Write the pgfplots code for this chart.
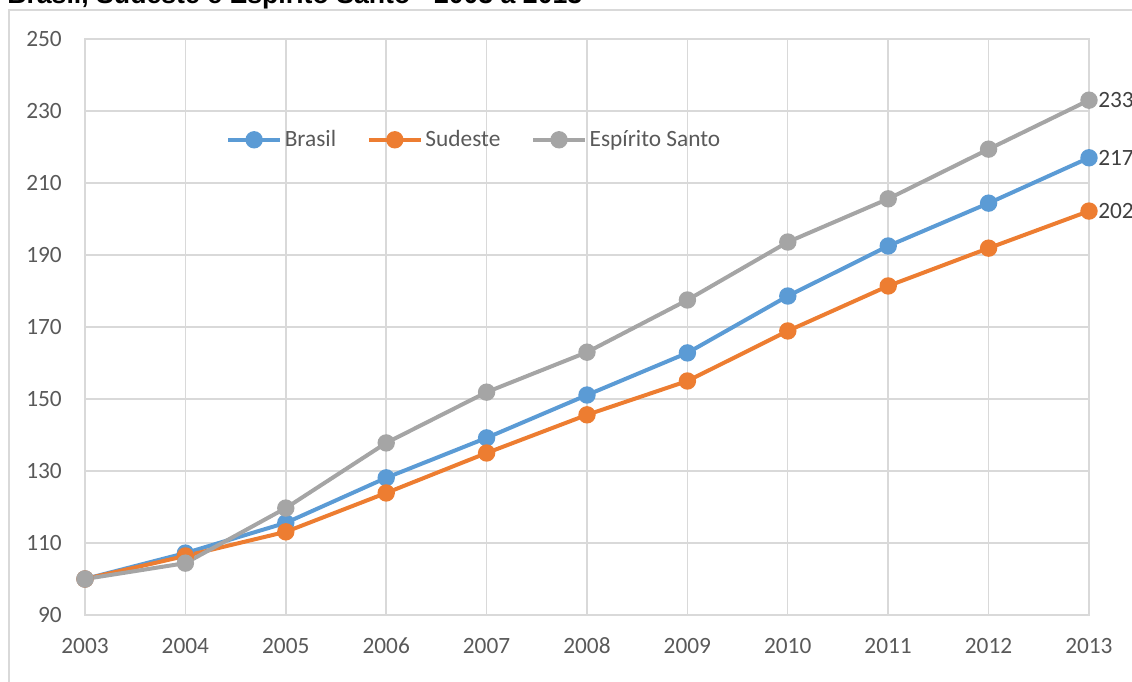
\documentclass[border=0pt]{standalone}
\usepackage{fontspec}
\setmainfont{Carlito}
\newfontfamily\titlefont{Liberation Sans}
\usepackage{pgfplots}
\pgfplotsset{compat=1.18}
\definecolor{cBR}{HTML}{5B9BD5}
\definecolor{cSE}{HTML}{ED7D31}
\definecolor{cES}{HTML}{A5A5A5}
\definecolor{cGrid}{HTML}{D9D9D9}
\definecolor{cTick}{HTML}{595959}
\definecolor{cLab}{HTML}{404040}
\pgfplotstableread{
year BR SE ES
2003 100 100 100
2004 107.2 106.4 104.4
2005 115.6 113.1 119.7
2006 128.1 123.9 137.8
2007 139.2 135.0 151.9
2008 151.1 145.6 163.0
2009 162.8 155.0 177.5
2010 178.6 168.9 193.6
2011 192.5 181.4 205.6
2012 204.4 191.9 219.4
2013 217.0 202.2 233.0
}\datatable
\begin{document}
\begin{tikzpicture}[x=0.75pt,y=0.75pt]
\useasboundingbox (0,0) rectangle (1132,682);
\draw[cGrid, line width=1.1pt] (9,-5) -- (9,672) -- (1140,672);
\node[anchor=base west, inner sep=0pt, font=\titlefont\bfseries\fontsize{20}{24}\selectfont] at (7,678) {Brasil, Sudeste e Espírito Santo - 2003 a 2013};
\begin{axis}[
  at={(63.75pt,50.25pt)}, anchor=south west,
  scale only axis, width=753pt, height=432pt,
  xmin=2003, xmax=2013, ymin=90, ymax=250,
  xtick={2003,...,2013}, ytick={90,110,...,250},
  grid=major, major grid style={cGrid, line width=1.1pt},
  axis line style={cGrid, line width=1.1pt},
  major tick length=0pt,
  clip=false,
  /pgf/number format/assume math mode=true,
  x tick label style={/pgf/number format/1000 sep={}, font=\fontsize{17.5}{21}\selectfont, text=cTick, anchor=center, inner sep=0pt, yshift=-23.25pt},
  y tick label style={font=\fontsize{17.5}{21}\selectfont, text=cTick, anchor=east, inner sep=0pt, xshift=-17.25pt},
  legend columns=3,
  legend style={draw=none, fill=none, at={(0.388,0.825)}, anchor=center, font=\fontsize{17.5}{21}\selectfont, text=cTick,
    /tikz/every even column/.append style={column sep=21pt}},
  legend cell align=left,
  legend image code/.code={\draw[mark repeat=2,mark phase=2,#1] plot coordinates {(0pt,0pt) (19.5pt,0pt) (39pt,0pt)};},
  every axis plot/.append style={line width=3pt, mark=*, mark size=5pt},
]
\addplot[cBR, mark options={fill=cBR, draw=cBR}] table[x=year,y=BR] {\datatable};
\addlegendentry{Brasil}
\addplot[cSE, mark options={fill=cSE, draw=cSE}] table[x=year,y=SE] {\datatable};
\addlegendentry{Sudeste}
\addplot[cES, mark options={fill=cES, draw=cES}] table[x=year,y=ES] {\datatable};
\addlegendentry{Espírito Santo}
\node[anchor=west, inner sep=0pt, xshift=6.75pt, text=cLab, font=\fontsize{17.5}{21}\selectfont] at (axis cs:2013,233) {233};
\node[anchor=west, inner sep=0pt, xshift=6.75pt, text=cLab, font=\fontsize{17.5}{21}\selectfont] at (axis cs:2013,217) {217};
\node[anchor=west, inner sep=0pt, xshift=6.75pt, text=cLab, font=\fontsize{17.5}{21}\selectfont] at (axis cs:2013,202.2) {202};
\end{axis}
\end{tikzpicture}
\end{document}
